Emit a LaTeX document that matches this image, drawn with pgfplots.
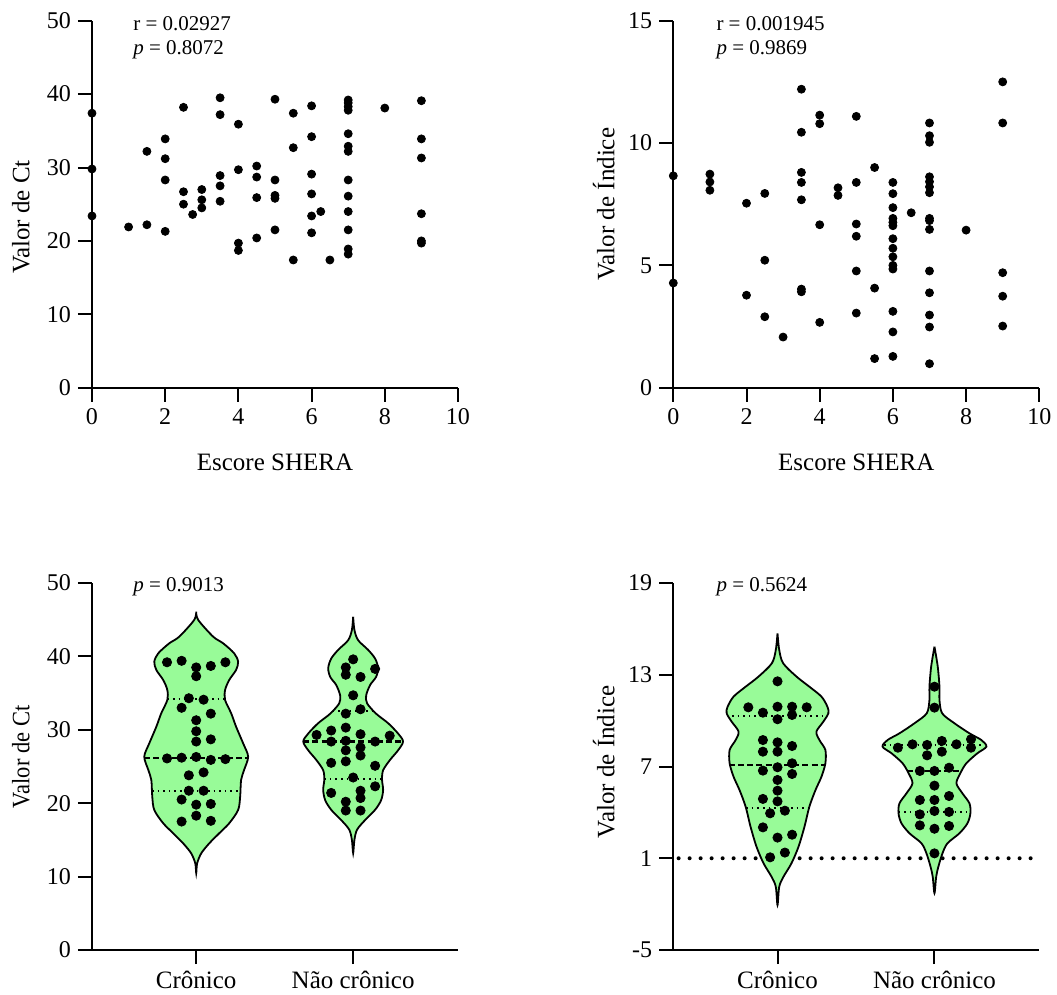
\documentclass[border=0pt]{standalone}
\usepackage{fontspec}
\setmainfont{Liberation Serif}
\usepackage{graphicx}
\usepackage{pgfplots}
\pgfplotsset{compat=1.18}
\definecolor{violinfill}{HTML}{98FB98}

\tikzset{note/.style={anchor=base west, inner sep=0pt, font=\fontsize{10.5}{12}\selectfont}}
\pgfplotsset{
  panel/.style={
    scale only axis, width=183pt, height=183.5pt, anchor=south west,
    axis lines=left, axis line style={-, line width=1pt},
    tick align=outside, major tick length=7pt,
    tick style={black, line width=1pt},
    ticklabel style={font=\fontsize{12}{14}\selectfont},
    label style={font=\fontsize{12.5}{15}\selectfont},
    /pgf/number format/assume math mode=true,
    enlargelimits=false, clip=false,
  },
  scatterpanel/.style={panel, xmin=0, xmax=10, xtick={0,2,...,10},
    xlabel={Escore SHERA},
    xlabel style={at={(axis description cs:0.5,-0.204)}, anchor=center}},
  violinpanel/.style={panel, xmin=0.336, xmax=2.668, xtick={1,2},
    xticklabels={Crônico,Não crônico},
    xticklabel style={font=\fontsize{12.5}{15}\selectfont}},
  dots/.style={only marks, mark=*, mark size=2pt, black},
  vdots/.style={only marks, mark=*, mark size=2.3pt, black},
  violin/.style={fill=violinfill, draw=black, line width=0.9pt, smooth, tension=0.5},
  med/.style={black, line width=1.1pt, dash pattern=on 3pt off 1.6pt},
  qrt/.style={black, line width=1pt, dash pattern=on 0.8pt off 2pt},
}

\begin{document}
\begin{tikzpicture}
\useasboundingbox (0,0) rectangle (528.5pt,-497.5pt);

% ---- top left: Ct vs SHERA
\begin{axis}[scatterpanel, at={(46pt,-193.85pt)},
  ymin=0, ymax=50, ytick={0,10,...,50},
  ylabel={Valor de Ct},
  ylabel style={at={(axis description cs:-0.194,0.465)}, anchor=center, rotate=0}]
\addplot[dots] coordinates {
(0,37.4)(0,29.8)(0,23.4)
(1,21.9)
(1.5,32.2)(1.5,22.2)
(2,33.9)(2,31.2)(2,28.3)(2,21.3)
(2.5,38.2)(2.5,26.7)(2.5,25.0)
(2.75,23.6)
(3,27.0)(3,25.6)(3,24.5)
(3.5,39.5)(3.5,37.2)(3.5,28.9)(3.5,27.5)(3.5,25.4)
(4,35.9)(4,29.7)(4,19.7)(4,18.7)
(4.5,30.2)(4.5,28.7)(4.5,25.9)(4.5,20.4)
(5,39.3)(5,28.3)(5,26.2)(5,25.8)(5,21.5)
(5.5,37.4)(5.5,32.7)(5.5,17.4)
(6,38.4)(6,34.2)(6,29.1)(6,26.4)(6,23.4)(6,21.1)
(6.25,24.0)
(6.5,17.4)
(7,39.2)(7,38.8)(7,38.3)(7,37.8)(7,34.6)(7,32.9)(7,32.2)(7,28.3)(7,26.1)(7,24.0)(7,21.5)(7,18.9)(7,18.2)
(8,38.1)
(9,39.1)(9,33.9)(9,31.3)(9,23.7)(9,20.0)(9,19.7)
};
\node[note] at (rel axis cs:0.112,0.973) {r = 0.02927};
\node[note] at (rel axis cs:0.112,0.909) {\textit{p} = 0.8072};
\end{axis}

% ---- top right: Indice vs SHERA
\begin{axis}[scatterpanel, at={(336.65pt,-193.85pt)},
  ymin=0, ymax=15, ytick={0,5,10,15},
  ylabel={Valor de Índice},
  ylabel style={at={(axis description cs:-0.19,0.5)}, anchor=center, rotate=0}]
\addplot[dots] coordinates {
(0,8.66)(0,4.28)
(1,8.73)(1,8.41)(1,8.07)
(2,7.54)(2,3.78)
(2.5,7.94)(2.5,5.21)(2.5,2.90)
(3,2.07)
(3.5,12.2)(3.5,10.44)(3.5,8.80)(3.5,8.39)(3.5,7.68)(3.5,4.03)(3.5,3.92)
(4,11.14)(4,10.79)(4,6.66)(4,2.67)
(4.5,8.17)(4.5,7.86)
(5,11.09)(5,8.39)(5,6.69)(5,6.19)(5,4.77)(5,3.05)
(5.5,9.0)(5.5,4.07)(5.5,1.19)
(6,8.39)(6,7.93)(6,7.36)(6,6.92)(6,6.76)(6,6.62)(6,6.09)(6,5.70)(6,5.35)(6,5.0)(6,4.85)(6,3.12)(6,2.28)(6,1.28)
(6.5,7.15)
(7,10.82)(7,10.3)(7,10.03)(7,8.62)(7,8.42)(7,8.21)(7,7.97)(7,6.92)(7,6.83)(7,6.47)(7,4.77)(7,3.88)(7,2.97)(7,2.48)(7,0.98)
(8,6.44)
(9,12.5)(9,10.82)(9,4.70)(9,3.74)(9,2.52)
};
\node[note] at (rel axis cs:0.117,0.973) {r = 0.001945};
\node[note] at (rel axis cs:0.117,0.909) {\textit{p} = 0.9869};
\end{axis}

% ---- bottom left: Ct violins
\begin{axis}[violinpanel, at={(46pt,-475pt)},
  ymin=0, ymax=50, ytick={0,10,...,50},
  ylabel={\scalebox{0.9}[1]{Valor de Ct}},
  ylabel style={at={(axis description cs:-0.194,0.526)}, anchor=center, rotate=0}]
\addplot[violin] coordinates {
(1,46.1)(1.013,44.96)(1.108,42.69)(1.172,41.78)(1.242,40.42)(1.267,39.28)(1.254,38.15)(1.210,36.78)(1.184,35.42)(1.184,34.06)(1.223,32.24)(1.254,30.43)(1.299,28.16)(1.331,26.34)(1.305,24.52)(1.286,23.16)(1.280,20.89)(1.267,19.07)(1.210,17.26)(1.146,15.89)(1.083,14.53)(1.032,13.17)(1.006,11.81)(1,10.5)
(0.994,11.81)(0.968,13.17)(0.917,14.53)(0.854,15.89)(0.790,17.26)(0.733,19.07)(0.720,20.89)(0.714,23.16)(0.695,24.52)(0.669,26.34)(0.701,28.16)(0.746,30.43)(0.777,32.24)(0.816,34.06)(0.816,35.42)(0.790,36.78)(0.746,38.15)(0.733,39.28)(0.758,40.42)(0.828,41.78)(0.892,42.69)(0.987,44.96)(1,46.1)
};
\addplot[violin] coordinates {
(2,45.4)(2.008,43.6)(2.032,42.2)(2.095,40.9)(2.140,39.7)(2.159,38.4)(2.146,37.2)(2.108,36.1)(2.083,34.7)(2.089,33.6)(2.146,32.2)(2.223,30.9)(2.286,29.5)(2.318,28.4)(2.286,27.2)(2.235,25.9)(2.191,24.5)(2.184,23.2)(2.191,21.8)(2.178,20.4)(2.140,19.1)(2.076,17.7)(2.025,16.4)(2.008,15.0)(2,13.2)
(1.992,15.0)(1.975,16.4)(1.924,17.7)(1.860,19.1)(1.822,20.4)(1.809,21.8)(1.816,23.2)(1.809,24.5)(1.765,25.9)(1.714,27.2)(1.682,28.4)(1.714,29.5)(1.777,30.9)(1.854,32.2)(1.911,33.6)(1.917,34.7)(1.892,36.1)(1.854,37.2)(1.841,38.4)(1.860,39.7)(1.905,40.9)(1.968,42.2)(1.992,43.6)(2,45.4)
};
\addplot[med] coordinates {(0.669,26.2)(1.331,26.2)};
\addplot[qrt] coordinates {(0.816,34.2)(1.184,34.2)};
\addplot[qrt] coordinates {(0.718,21.7)(1.282,21.7)};
\addplot[med] coordinates {(1.682,28.4)(2.318,28.4)};
\addplot[qrt] coordinates {(1.870,32.5)(2.130,32.5)};
\addplot[qrt] coordinates {(1.816,23.3)(2.184,23.3)};
\addplot[vdots] coordinates {
(0.814,39.2)(0.907,39.4)(1,38.5)(1,37.3)(1.093,38.7)(1.186,39.2)
(0.953,34.3)(1.047,34.1)(0.907,33.0)(1.093,32.2)(1,31.3)(1,29.8)(1,28.4)(1.093,28.7)
(0.814,26.1)(0.907,26.2)(1,26.3)(1.093,25.9)(1.186,26.0)
(0.953,23.8)(1.047,24.2)(0.953,21.7)(1.047,21.7)(0.907,20.5)(1,19.8)(1.093,19.9)
(0.907,17.5)(1,18.3)(1.093,17.6)
};
\addplot[vdots] coordinates {
(2,39.6)(1.953,38.5)(1.953,37.5)(2.140,38.3)(2.047,37.2)
(2,34.7)(1.953,32.2)(2.047,32.8)
(1.767,29.3)(1.860,29.9)(1.953,30.3)(2.047,29.4)(2.233,29.2)
(1.860,28.4)(1.953,28.5)(2.140,28.4)
(1.953,27.2)(2.047,27.6)(2.047,26.5)(1.860,25.5)(1.953,25.7)(2.140,25.1)
(2,23.5)(1.860,21.4)(2.140,22.3)(2.047,21.7)(2.047,20.7)(1.953,20.2)(1.953,19.0)(2.047,19.0)
};
\node[note] at (rel axis cs:0.112,0.976) {\textit{p} = 0.9013};
\end{axis}

% ---- bottom right: Indice violins
\begin{axis}[violinpanel, at={(336.65pt,-475pt)},
  ymin=-5, ymax=19, ytick={-5,1,7,13,19}, yticklabels={-5,1,7,13,19},
  ylabel={Valor de Índice},
  ylabel style={at={(axis description cs:-0.19,0.513)}, anchor=center, rotate=0}]
\addplot[black, line width=2pt, line cap=round, dash pattern=on 0pt off 5.5pt] coordinates {(0.37,1)(2.668,1)};
\addplot[violin] coordinates {
(1,15.71)(1.011,14.62)(1.036,13.75)(1.121,12.88)(1.203,12.22)(1.280,11.57)(1.318,10.91)(1.324,10.48)(1.292,9.93)(1.248,9.28)(1.267,8.73)(1.305,8.08)(1.305,7.21)(1.280,6.33)(1.242,5.46)(1.203,4.37)(1.172,3.07)(1.134,1.76)(1.089,0.67)(1.038,-0.21)(1.011,-0.86)(1,-2.06)
(0.989,-0.86)(0.962,-0.21)(0.911,0.67)(0.866,1.76)(0.828,3.07)(0.797,4.37)(0.758,5.46)(0.720,6.33)(0.695,7.21)(0.695,8.08)(0.733,8.73)(0.752,9.28)(0.708,9.93)(0.676,10.48)(0.682,10.91)(0.720,11.57)(0.797,12.22)(0.879,12.88)(0.964,13.75)(0.989,14.62)(1,15.71)
};
\addplot[violin] coordinates {
(2,14.84)(2.021,13.53)(2.032,12.22)(2.032,11.35)(2.049,10.48)(2.127,9.83)(2.223,9.17)(2.299,8.73)(2.331,8.30)(2.273,7.86)(2.203,7.21)(2.165,6.56)(2.140,5.90)(2.178,5.25)(2.223,4.59)(2.229,3.94)(2.210,3.28)(2.159,2.63)(2.083,1.98)(2.051,1.32)(2.025,0.45)(2.011,-0.21)(2,-1.29)
(1.989,-0.21)(1.975,0.45)(1.949,1.32)(1.917,1.98)(1.841,2.63)(1.790,3.28)(1.771,3.94)(1.777,4.59)(1.822,5.25)(1.860,5.90)(1.835,6.56)(1.797,7.21)(1.727,7.86)(1.669,8.30)(1.701,8.73)(1.777,9.17)(1.873,9.83)(1.951,10.48)(1.968,11.35)(1.968,12.22)(1.979,13.53)(2,14.84)
};
\addplot[med] coordinates {(0.69,7.10)(1.31,7.10)};
\addplot[qrt] coordinates {(0.71,10.30)(1.29,10.30)};
\addplot[qrt] coordinates {(0.80,4.27)(1.20,4.27)};
\addplot[med] coordinates {(1.825,6.73)(2.175,6.73)};
\addplot[qrt] coordinates {(1.68,8.41)(2.32,8.41)};
\addplot[qrt] coordinates {(1.772,4.03)(2.228,4.03)};
\addplot[vdots] coordinates {
(1,12.57)(0.814,10.87)(0.907,10.52)(1,10.91)(1.093,10.91)(1.186,10.87)(1.093,10.37)(1,10.09)
(0.907,8.73)(1,8.58)(0.907,7.97)(1,7.97)(1.093,8.34)
(1.093,7.21)(0.907,6.73)(1,6.95)(1.093,6.51)(1,6.12)(1,5.42)(0.907,4.88)(1,4.72)
(0.953,3.94)(1.047,4.11)(0.907,3.02)(1,2.35)(1.093,2.54)(0.953,1.06)(1.047,1.37)
};
\addplot[vdots] coordinates {
(2,12.22)(2,10.85)
(1.767,8.23)(1.860,8.45)(1.953,8.41)(1.953,7.73)(2.047,8.67)(2.047,7.97)(2.140,8.45)(2.233,8.78)(2.233,8.23)
(1.907,6.71)(2,6.71)(2.093,6.92)
(2,5.75)(1.907,4.81)(2,4.81)(2.093,5.07)
(1.907,3.87)(2,4.09)(2.093,4.03)(1.907,3.15)(2,2.93)(2.093,3.11)(2,1.32)
};
\node[note] at (rel axis cs:0.117,0.978) {\textit{p} = 0.5624};
\end{axis}
\end{tikzpicture}
\end{document}
